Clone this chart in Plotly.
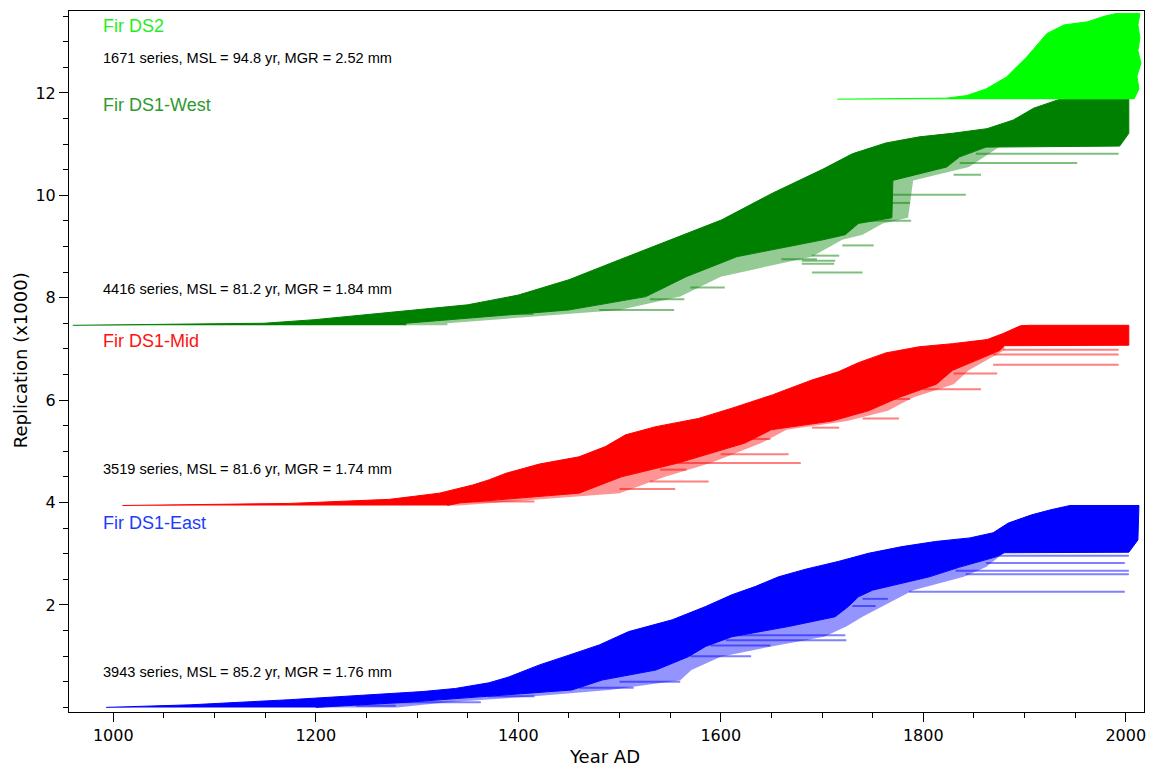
import plotly.graph_objects as go

# ---------------- data ----------------
# series counts per chronology (stack order bottom -> top)
GROUPS = ["Fir DS1-East", "Fir DS1-Mid", "Fir DS1-West", "Fir DS2"]
SERIES_N = [3943, 3519, 4416, 1671]
STATS = ["3943 series, MSL = 85.2 yr, MGR = 1.76 mm",
         "3519 series, MSL = 81.6 yr, MGR = 1.74 mm",
         "4416 series, MSL = 81.2 yr, MGR = 1.84 mm",
         "1671 series, MSL = 94.8 yr, MGR = 2.52 mm"]
COLORS = ["#0000ff", "#ff0000", "#008000", "#00ff00"]
LABEL_COLORS = ["#1a3cff", "#ff1010", "#2e9a2e", "#22ee22"]

# left envelope: first year of series vs. series index (x1000), within group
EAST_LEFT_YEAR = [993, 1076, 1174, 1273, 1306, 1338, 1371, 1390, 1404, 1421, 1450, 1480, 1509, 1552, 1585, 1611,
                  1634, 1657, 1684, 1716, 1746, 1779, 1812, 1846, 1869, 1884, 1907, 1926, 1945]
EAST_LEFT_N = [0.0, 0.05, 0.15, 0.26, 0.31, 0.37, 0.48, 0.59, 0.70, 0.83, 1.02, 1.22, 1.48, 1.71, 1.97, 2.20,
               2.36, 2.55, 2.70, 2.85, 3.01, 3.14, 3.24, 3.31, 3.41, 3.60, 3.76, 3.86, 3.943]
# right envelope of the dense body: last year vs. series index
EAST_RIGHT_YEAR = [1200, 1290, 1365, 1453, 1483, 1536, 1568, 1585, 1611, 1667, 1713, 1726, 1736, 1750, 1806, 1836,
                   1872, 1880, 2003, 2012, 2013]
EAST_RIGHT_N = [0.0, 0.10, 0.21, 0.34, 0.535, 0.73, 0.99, 1.19, 1.38, 1.58, 1.77, 1.97, 2.16, 2.29, 2.55, 2.74,
                2.94, 3.02, 3.03, 3.27, 3.943]
# outer edge of the lighter, ragged fringe of series ends
EAST_FRINGE_YEAR = [1280, 1330, 1410, 1490, 1560, 1571, 1600, 1650, 1702, 1724, 1740, 1760, 1790, 1840, 1862, 1880]
EAST_FRINGE_N = [0.0, 0.10, 0.21, 0.34, 0.53, 0.73, 0.99, 1.19, 1.38, 1.58, 1.77, 1.97, 2.29, 2.55, 2.74, 3.02]
# isolated long series sticking out of the body
EAST_OUT_START = [1869, 1862, 1832, 1842, 1786, 1740, 1730, 1605, 1605, 1590, 1570, 1500, 1460, 1370, 1260, 1240]
EAST_OUT_END = [2003, 1999, 2003, 2003, 1999, 1765, 1753, 1723, 1724, 1649, 1630, 1560, 1514, 1416, 1363, 1279]
EAST_OUT_N = [2.96, 2.82, 2.67, 2.60, 2.26, 2.12, 1.98, 1.41, 1.31, 1.21, 1.00, 0.50, 0.385, 0.22, 0.10, 0.03]

MID_LEFT_YEAR = [1009, 1174, 1273, 1322, 1355, 1371, 1388, 1421, 1460, 1486, 1506, 1536, 1578, 1611, 1651, 1690,
                 1716, 1736, 1763, 1796, 1829, 1863, 1879, 1896, 1905]
MID_LEFT_N = [0.0, 0.04, 0.12, 0.24, 0.40, 0.50, 0.63, 0.81, 0.95, 1.15, 1.38, 1.54, 1.70, 1.90, 2.16, 2.45,
              2.61, 2.79, 2.98, 3.10, 3.16, 3.24, 3.36, 3.51, 3.519]
MID_RIGHT_YEAR = [1330, 1342, 1460, 1502, 1558, 1624, 1650, 1710, 1746, 1776, 1813, 1829, 1852, 1876, 1880, 2003,
                  2003]
MID_RIGHT_N = [0.0, 0.05, 0.24, 0.56, 0.83, 1.22, 1.48, 1.65, 1.85, 2.11, 2.37, 2.64, 2.83, 3.03, 3.12, 3.13,
               3.519]
MID_FRINGE_YEAR = [1342, 1380, 1500, 1545, 1590, 1640, 1665, 1725, 1765, 1790, 1830, 1845, 1862, 1880, 1880]
MID_FRINGE_N = [0.0, 0.05, 0.24, 0.56, 0.83, 1.22, 1.48, 1.65, 1.85, 2.11, 2.37, 2.64, 2.83, 3.03, 3.12]
MID_OUT_START = [1879, 1869, 1869, 1830, 1800, 1760, 1740, 1690, 1600, 1558, 1600, 1530, 1500, 1350, 1540]
MID_OUT_END = [1993, 1993, 1993, 1873, 1857, 1787, 1776, 1717, 1667, 1679, 1649, 1588, 1555, 1416, 1566]
MID_OUT_N = [3.04, 2.95, 2.75, 2.58, 2.27, 2.08, 1.70, 1.52, 1.00, 0.83, 1.30, 0.47, 0.32, 0.08, 0.70]

WEST_LEFT_YEAR = [960, 1149, 1199, 1274, 1350, 1400, 1450, 1500, 1551, 1601, 1651, 1701, 1730, 1763, 1796, 1829,
                  1863, 1889, 1909, 1929, 1935]
WEST_LEFT_N = [0.0, 0.04, 0.11, 0.25, 0.40, 0.59, 0.89, 1.28, 1.67, 2.06, 2.58, 3.05, 3.35, 3.56, 3.68, 3.75,
               3.84, 4.01, 4.24, 4.37, 4.416]
WEST_RIGHT_YEAR = [1289, 1289, 1450, 1526, 1566, 1616, 1701, 1723, 1736, 1769, 1770, 1823, 1836, 1862, 1994, 2003,
                   2003]
WEST_RIGHT_N = [0.0, 0.04, 0.30, 0.56, 0.95, 1.34, 1.67, 1.77, 1.99, 2.10, 2.83, 3.09, 3.29, 3.48, 3.50, 3.75,
                4.416]
WEST_FRINGE_YEAR = [1330, 1330, 1500, 1560, 1600, 1690, 1720, 1740, 1760, 1785, 1790, 1845, 1860, 1875, 1875]
WEST_FRINGE_N = [0.0, 0.04, 0.30, 0.56, 0.95, 1.34, 1.67, 1.77, 1.99, 2.10, 2.83, 3.09, 3.29, 3.48, 3.50]
WEST_OUT_START = [1852, 1836, 1830, 1770, 1760, 1740, 1720, 1690, 1690, 1680, 1680, 1660, 1480, 1380, 1530, 1570]
WEST_OUT_END = [1993, 1952, 1857, 1842, 1787, 1788, 1751, 1717, 1740, 1713, 1712, 1695, 1554, 1415, 1564, 1604]
WEST_OUT_N = [3.35, 3.17, 2.94, 2.55, 2.39, 2.04, 1.56, 1.36, 1.03, 1.26, 1.20, 1.29, 0.30, 0.22, 0.51, 0.74]

DS2_LEFT_YEAR = [1715, 1823, 1843, 1862, 1882, 1902, 1922, 1939, 1962, 1979, 1990]
DS2_LEFT_N = [0.0, 0.02, 0.07, 0.20, 0.43, 0.82, 1.28, 1.45, 1.51, 1.62, 1.671]
DS2_RIGHT_YEAR = [2008, 2013, 2011, 2015, 2012, 2014, 2012, 2014]
DS2_RIGHT_N = [0.0, 0.20, 0.45, 0.70, 0.95, 1.20, 1.45, 1.671]
DS2_FRINGE_YEAR = []
DS2_FRINGE_N = []
DS2_OUT_START = []
DS2_OUT_END = []
DS2_OUT_N = []

LEFT = [(EAST_LEFT_YEAR, EAST_LEFT_N), (MID_LEFT_YEAR, MID_LEFT_N),
        (WEST_LEFT_YEAR, WEST_LEFT_N), (DS2_LEFT_YEAR, DS2_LEFT_N)]
RIGHT = [(EAST_RIGHT_YEAR, EAST_RIGHT_N), (MID_RIGHT_YEAR, MID_RIGHT_N),
         (WEST_RIGHT_YEAR, WEST_RIGHT_N), (DS2_RIGHT_YEAR, DS2_RIGHT_N)]
FRINGE = [(EAST_FRINGE_YEAR, EAST_FRINGE_N), (MID_FRINGE_YEAR, MID_FRINGE_N),
          (WEST_FRINGE_YEAR, WEST_FRINGE_N), (DS2_FRINGE_YEAR, DS2_FRINGE_N)]
OUT = [(EAST_OUT_START, EAST_OUT_END, EAST_OUT_N), (MID_OUT_START, MID_OUT_END, MID_OUT_N),
       (WEST_OUT_START, WEST_OUT_END, WEST_OUT_N), (DS2_OUT_START, DS2_OUT_END, DS2_OUT_N)]

Y_TICKS = [2, 4, 6, 8, 10, 12]
X_TICKS = [1000, 1200, 1400, 1600, 1800, 2000]

# label positions (replication x1000)
LABEL_POS = [3.60, 7.16, 11.76, 13.31]
STATS_POS = [0.69, 4.66, 8.17, 12.68]
LABEL_X = 988


def rgba(hexc, a):
    h = hexc.lstrip("#")
    return "rgba(%d,%d,%d,%.2f)" % (int(h[0:2], 16), int(h[2:4], 16), int(h[4:6], 16), a)


fig = go.Figure()
offset = 0.0
for g in range(len(GROUPS)):
    ly, ln = LEFT[g]
    ry, rn = RIGHT[g]
    fy, fn = FRINGE[g]
    # lighter fringe band between the dense edge and the outer ragged edge
    if fy:
        top_n = fn[-1]
        dense_x = [x for x, v in zip(ry, rn) if v <= top_n]
        dense_y = [v for v in rn if v <= top_n]
        xs = dense_x + list(reversed(fy))
        ys = [offset + v for v in dense_y] + [offset + v for v in reversed(fn)]
        fig.add_trace(go.Scatter(x=xs, y=ys, mode="lines", fill="toself", fillcolor=rgba(COLORS[g], 0.42),
                                 line=dict(width=0), hoverinfo="skip", showlegend=False))
    xs = list(ly) + list(reversed(ry))
    ys = [offset + v for v in ln] + [offset + v for v in reversed(rn)]
    fig.add_trace(go.Scatter(x=xs, y=ys, mode="lines", fill="toself", fillcolor=COLORS[g],
                             line=dict(color=COLORS[g], width=1), hoverinfo="skip", showlegend=False))
    s, e, n = OUT[g]
    ox, oy = [], []
    for a, b, v in zip(s, e, n):
        ox += [a, b, None]
        oy += [offset + v, offset + v, None]
    if ox:
        fig.add_trace(go.Scatter(x=ox, y=oy, mode="lines", line=dict(color=rgba(COLORS[g], 0.5), width=2),
                                 hoverinfo="skip", showlegend=False))
    fig.add_annotation(x=LABEL_X, y=LABEL_POS[g], text=GROUPS[g], xanchor="left", yanchor="middle",
                       showarrow=False, font=dict(family="Liberation Sans, Arial", size=18, color=LABEL_COLORS[g]))
    fig.add_annotation(x=LABEL_X, y=STATS_POS[g], text=STATS[g], xanchor="left", yanchor="middle",
                       showarrow=False, font=dict(family="Liberation Sans, Arial", size=14.6, color="black"))
    offset += SERIES_N[g] / 1000.0

# axis titles
fig.add_annotation(xref="paper", yref="paper", x=0.4986, y=-0.064, text="Year AD", showarrow=False,
                   xanchor="center", yanchor="middle", font=dict(family="DejaVu Sans", size=18, color="black"))
fig.add_annotation(xref="paper", yref="paper", x=-0.0455, y=0.502, text="Replication (x1000)", showarrow=False,
                   textangle=-90, xanchor="center", yanchor="middle",
                   font=dict(family="DejaVu Sans", size=18, color="black"))

fig.update_layout(
    width=1150, height=767,
    margin=dict(l=69, r=4, t=11, b=55),
    paper_bgcolor="white", plot_bgcolor="white",
    showlegend=False,
)
fig.update_xaxes(range=[956.3, 2018], tickvals=X_TICKS, ticks="outside", ticklen=9, tickcolor="black",
                 showline=True, linecolor="black", linewidth=1, mirror=True, showgrid=False, zeroline=False,
                 tickfont=dict(family="DejaVu Sans", size=16, color="black"),
                 minor=dict(tickmode="linear", tick0=1000, dtick=50, ticks="outside", ticklen=5,
                            tickcolor="black", showgrid=False))
fig.update_yaxes(range=[-0.09, 13.60], tickvals=Y_TICKS, ticks="outside", ticklen=9, tickcolor="black",
                 showline=True, linecolor="black", linewidth=1, mirror=True, showgrid=False, zeroline=False,
                 tickfont=dict(family="DejaVu Sans", size=16, color="black"),
                 minor=dict(tickmode="linear", tick0=0, dtick=0.5, ticks="outside", ticklen=5,
                            tickcolor="black", showgrid=False))

# remove the default page margin / scrollbars so the figure fills the window exactly
PAGE_FIX = "document.body.style.margin='0';document.body.style.overflow='hidden';"
fig.write_html("out.html", post_script=PAGE_FIX, config={"displayModeBar": False})
